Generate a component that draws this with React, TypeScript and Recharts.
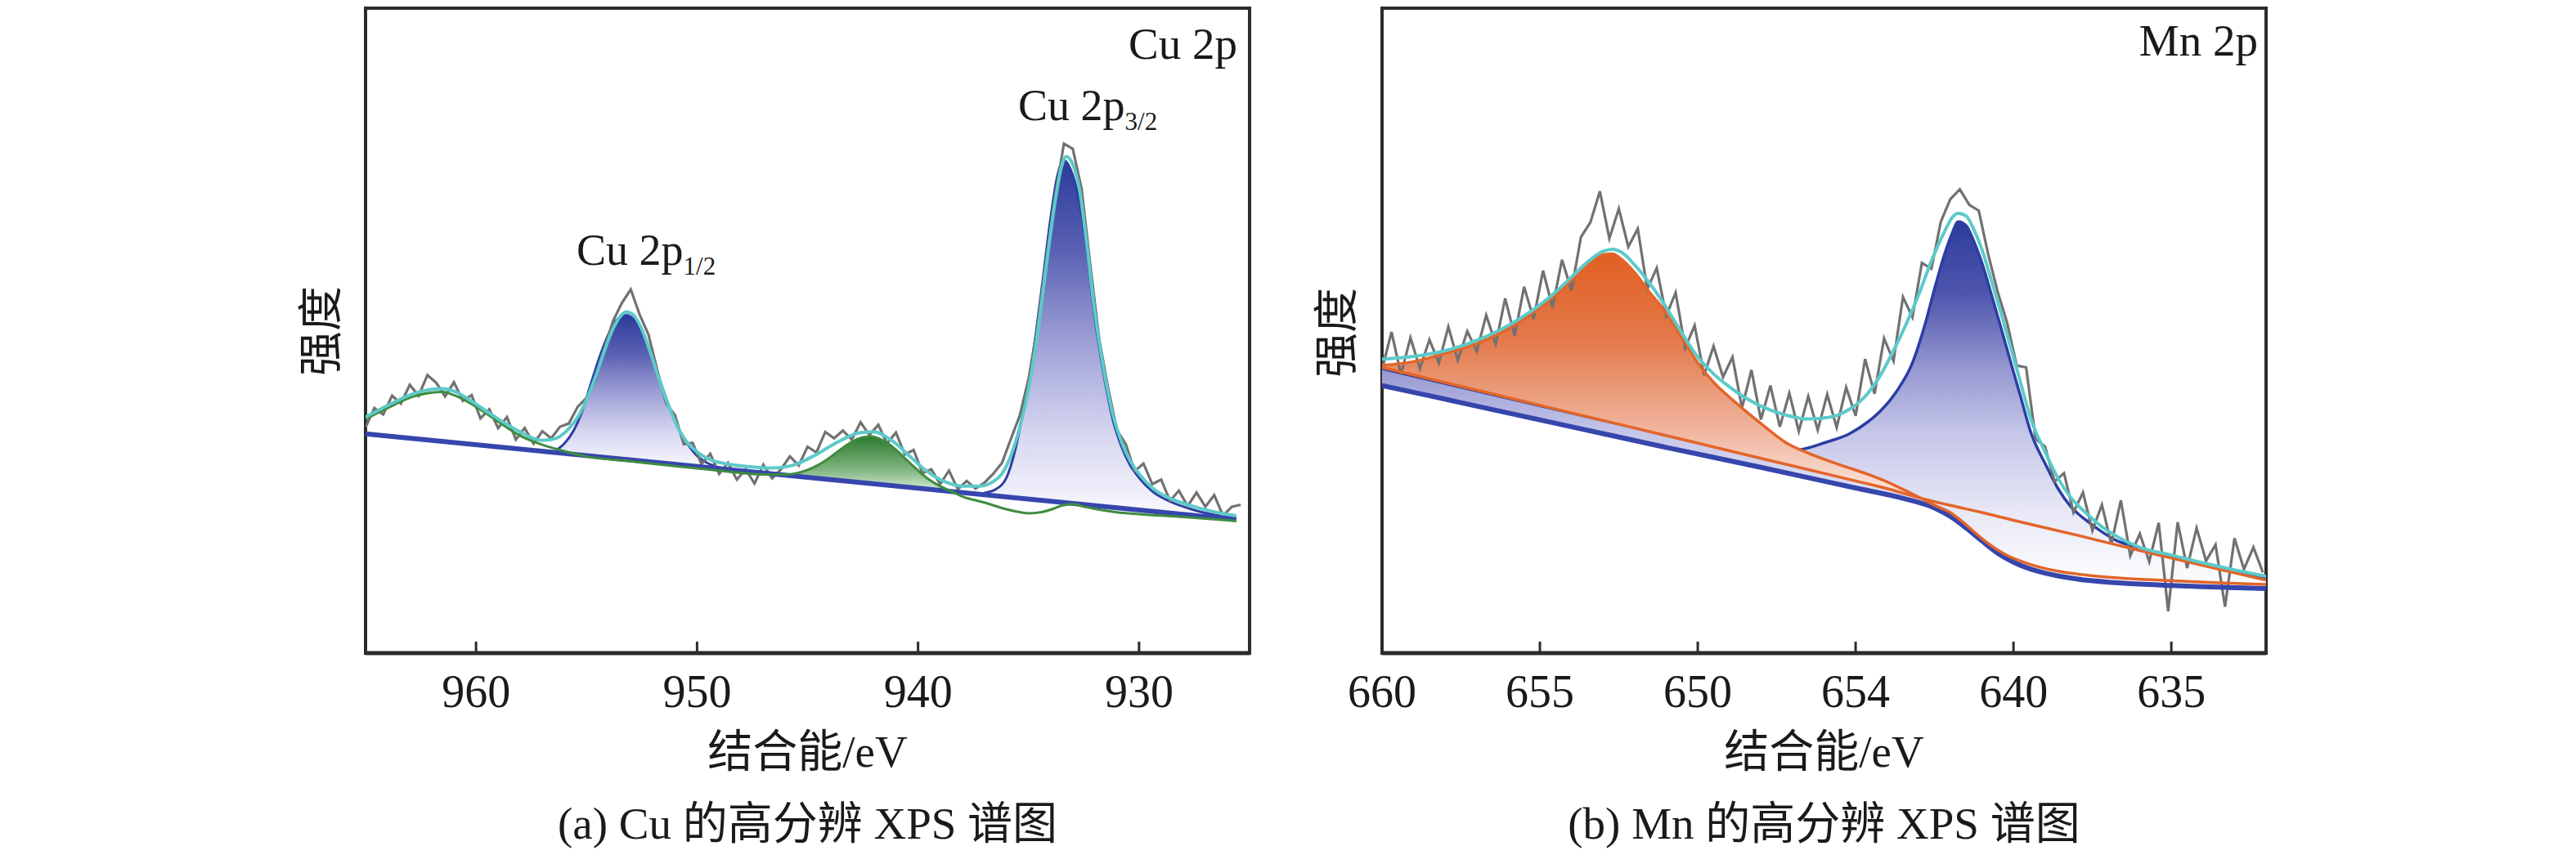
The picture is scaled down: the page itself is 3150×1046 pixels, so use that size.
import React from 'react';
import { ComposedChart, Line, Area, XAxis, YAxis, ReferenceArea } from 'recharts';

// ================= (a) Cu 2p =================
const cuTicks = [960, 950, 940, 930];
const cuTickLabels = ['960', '950', '940', '930'];

// linear background (E, intensity)
const cuBaseline = [[965, 34.0], [925.6, 20.7]];

// Cu 2p1/2 component (E, background, component)
const cuP12 = [
  [956.4, 31.11, 31.4], [956.0, 30.96, 32.5], [955.6, 30.83, 34.4], [955.2, 30.69, 37.5],
  [954.8, 30.55, 41.8], [954.4, 30.42, 46.0], [954.0, 30.28, 49.5], [953.6, 30.15, 51.8],
  [953.2, 30.01, 52.4], [952.8, 29.88, 51.5], [952.4, 29.74, 49.0], [952.0, 29.61, 45.5],
  [951.6, 29.47, 41.5], [951.2, 29.34, 37.7], [950.8, 29.2, 34.6], [950.4, 29.07, 32.3],
  [950.0, 28.93, 30.6], [949.6, 28.8, 29.6], [949.2, 28.66, 29.0], [948.8, 28.53, 28.6],
];

// Cu 2p3/2 component (E, background, component)
const cuP32 = [
  [937.0, 24.55, 24.85], [936.5, 24.38, 25.38], [936.0, 24.21, 27.21], [935.6, 24.08, 31.58],
  [935.2, 23.94, 38.44], [934.8, 23.81, 46.31], [934.4, 23.67, 56.67], [934.0, 23.54, 67.54],
  [933.7, 23.43, 73.93], [933.4, 23.33, 76.43], [933.1, 23.23, 75.03], [932.8, 23.13, 71.63],
  [932.4, 22.98, 63.48], [932.0, 22.86, 51.86], [931.6, 22.73, 43.23], [931.2, 22.59, 36.39],
  [930.8, 22.46, 32.06], [930.4, 22.32, 29.12], [930.0, 22.19, 27.19], [929.4, 21.98, 25.08],
  [928.6, 21.71, 23.51], [927.6, 21.38, 22.28], [926.6, 21.04, 21.44], [925.6, 20.7, 20.9],
];

// shake-up satellite fill (E, background, satellite)
const cuSat = [
  [946.0, 27.59, 27.68], [945.5, 27.42, 27.9], [945.0, 27.25, 28.4], [944.5, 27.09, 29.2],
  [944.0, 26.92, 30.3], [943.5, 26.75, 31.6], [943.0, 26.58, 32.76], [942.5, 26.41, 33.47],
  [942.1, 26.28, 33.58], [941.6, 26.11, 32.99], [941.0, 25.91, 31.54], [940.5, 25.74, 29.91],
  [940.0, 25.57, 28.32], [939.5, 25.4, 26.91], [939.0, 25.24, 25.87], [938.5, 25.07, 25.08],
];

// green satellite curve (E, intensity)
const cuGreen = [
  [965.0, 36.3], [964.0, 38.0], [963.0, 39.6], [962.0, 40.4], [961.5, 40.5], [961.0, 40.0],
  [960.0, 38.2], [959.0, 35.9], [958.0, 33.7], [957.0, 32.3], [956.0, 31.3], [955.0, 30.5],
  [953.0, 29.75], [951.0, 29.0], [949.0, 28.3], [947.0, 27.7], [946.0, 27.68], [945.5, 27.9],
  [945.0, 28.4], [944.5, 29.2], [944.0, 30.3], [943.5, 31.6], [943.0, 32.76], [942.5, 33.47],
  [942.1, 33.58], [941.6, 32.99], [941.0, 31.54], [940.5, 29.91], [940.0, 28.32], [939.5, 26.91],
  [939.0, 25.87], [938.5, 25.08], [938.0, 24.3], [937.0, 23.35], [936.0, 22.3], [935.6, 21.98],
  [935.0, 21.68], [934.4, 21.87], [934.0, 22.24], [933.5, 22.87], [933.0, 23.1], [932.5, 22.73],
  [932.0, 22.36], [931.0, 21.82], [930.0, 21.54], [928.0, 21.11], [925.6, 20.5],
];

// fitted envelope (E, intensity)
const cuEnv = [
  [965.0, 36.6], [964.0, 38.4], [963.0, 40.0], [962.0, 40.9], [961.5, 41.0], [961.0, 40.6],
  [960.0, 38.6], [959.0, 36.3], [958.0, 34.3], [957.4, 33.3], [957.0, 33.0], [956.6, 33.1],
  [956.2, 33.6], [955.8, 34.8], [955.4, 36.6], [955.0, 39.3], [954.6, 42.8], [954.2, 46.8],
  [953.8, 50.3], [953.4, 52.5], [953.2, 52.9], [952.9, 52.5], [952.5, 50.2], [952.1, 46.5],
  [951.7, 42.3], [951.3, 38.5], [950.9, 35.2], [950.5, 32.9], [950.0, 31.2], [949.4, 30.0],
  [948.6, 29.3], [947.6, 28.9], [946.6, 28.7], [945.6, 29.2], [944.6, 30.8], [943.6, 32.8],
  [942.6, 34.2], [942.0, 34.3], [941.2, 33.0], [940.4, 30.6], [939.6, 28.2], [938.8, 26.6],
  [938.0, 25.9], [937.2, 25.9], [936.6, 26.6], [936.2, 27.8], [935.8, 30.6], [935.4, 35.0],
  [935.0, 41.0], [934.6, 49.4], [934.2, 60.0], [933.8, 70.0], [933.5, 75.5], [933.3, 77.0],
  [933.0, 75.8], [932.7, 72.0], [932.4, 64.4], [932.0, 52.8], [931.6, 44.0], [931.2, 37.2],
  [930.8, 32.8], [930.4, 29.8], [930.0, 27.8], [929.4, 25.6], [928.6, 24.0], [927.6, 22.8],
  [926.6, 21.9], [925.6, 21.3],
];

// measured spectrum (E, intensity)
const cuRaw = [
  [965.0, 35.0], [964.6, 38.0], [964.2, 37.0], [963.8, 39.9], [963.4, 38.7], [963.0, 41.6],
  [962.6, 39.9], [962.2, 43.1], [961.8, 41.9], [961.4, 39.8], [961.0, 42.0], [960.6, 39.1],
  [960.2, 40.0], [959.8, 36.4], [959.4, 37.8], [959.0, 34.9], [958.6, 36.6], [958.2, 33.1],
  [957.8, 34.9], [957.4, 32.5], [957.0, 34.4], [956.6, 33.3], [956.2, 35.1], [955.8, 35.6],
  [955.4, 38.2], [955.0, 39.6], [954.6, 42.3], [954.2, 47.2], [953.8, 51.5], [953.4, 54.3],
  [953.0, 56.4], [952.6, 52.5], [952.2, 49.4], [951.8, 43.9], [951.4, 38.7], [951.0, 36.9],
  [950.6, 32.4], [950.2, 32.6], [949.8, 29.3], [949.4, 30.9], [949.0, 27.8], [948.6, 29.5],
  [948.2, 26.9], [947.8, 28.5], [947.4, 26.3], [947.0, 29.2], [946.6, 27.1], [946.2, 28.5],
  [945.8, 30.5], [945.4, 29.1], [945.0, 32.0], [944.6, 31.1], [944.2, 34.3], [943.8, 33.3],
  [943.4, 34.5], [943.0, 33.1], [942.6, 35.8], [942.2, 33.8], [941.8, 35.4], [941.4, 32.5],
  [941.0, 34.2], [940.6, 30.8], [940.2, 31.5], [939.8, 27.9], [939.4, 28.5], [939.0, 26.2],
  [938.6, 28.3], [938.2, 25.4], [937.8, 26.7], [937.4, 25.5], [937.0, 26.4], [936.6, 27.8],
  [936.2, 29.5], [935.8, 33.2], [935.4, 36.8], [935.0, 42.5], [934.6, 50.6], [934.2, 61.0],
  [933.8, 70.8], [933.4, 79.0], [933.0, 78.2], [932.6, 72.0], [932.2, 60.0], [931.8, 48.6],
  [931.4, 41.1], [931.0, 34.6], [930.6, 32.4], [930.2, 28.2], [929.8, 29.4], [929.4, 26.2],
  [929.0, 26.9], [928.6, 23.6], [928.2, 25.2], [927.8, 22.8], [927.4, 24.9], [927.0, 22.7],
  [926.6, 24.5], [926.2, 21.3], [925.8, 22.7], [925.4, 23.0],
];

// ================= (b) Mn 2p =================
const mnTicks = [660, 655, 650, 645, 640, 635];
const mnTickLabels = ['660', '655', '650', '654', '640', '635'];

// Shirley background (E, intensity)
const mnBg = [
  [660, 41.5], [657, 38.3], [654, 35.1], [651, 31.9], [648, 28.8], [645, 25.6], [643.5, 24.0],
  [642.5, 22.5], [642, 21.2], [641.5, 19.4], [641, 17.4], [640.5, 15.5], [640, 14.1],
  [639.5, 13.1], [639, 12.4], [638, 11.5], [637, 11.0], [636, 10.7], [635, 10.5], [634, 10.3],
  [633, 10.15], [632, 10.0],
];

// straight orange background (E, intensity)
const mnLineB = [
  [660, 44.3], [656, 39.6], [652, 34.9], [648, 30.2], [645, 26.7], [644, 25.5], [643, 24.1],
  [642, 22.9], [641, 21.8], [640, 20.6], [638, 18.3], [636, 15.9], [634, 13.6], [632, 11.3],
];

// Mn 2p1/2 component curve (E, intensity)
const mnLineA = [
  [660, 44.6], [659, 45.2], [658, 46.5], [657, 48.0], [656, 50.3], [655, 53.6], [654.5, 55.6],
  [654, 57.8], [653.5, 60.2], [653, 61.8], [652.7, 61.9], [652.4, 61.0], [652, 59.0],
  [651.5, 55.8], [651, 52.8], [650.5, 48.9], [650, 45.0], [649.5, 42.0], [649, 39.7],
  [648.5, 37.6], [648, 35.6], [647.2, 32.6], [646.5, 31.0], [645.5, 29.2], [644.6, 27.7],
  [643.8, 26.1], [643.2, 24.67], [642.9, 23.95], [642.4, 22.7], [642, 21.8], [641.6, 20.3],
  [641.2, 18.6], [640.8, 17.0], [640.3, 15.4], [639.5, 13.8], [638.7, 12.8], [637.7, 12.1],
  [636.5, 11.6], [635.1, 11.25], [633.5, 10.9], [632, 10.65],
];

// Mn 2p1/2 filled region (E, lower, upper)
const mnOrange = [
  [660, 44.3, 44.6], [659, 43.12, 45.2], [658, 41.95, 46.5], [657, 40.77, 48.0],
  [656, 39.6, 50.3], [655, 38.42, 53.6], [654.5, 37.84, 55.6], [654, 37.25, 57.8],
  [653.5, 36.66, 60.2], [653, 36.07, 61.8], [652.7, 35.72, 61.9], [652.4, 35.37, 61.0],
  [652, 34.9, 59.0], [651.5, 34.31, 55.8], [651, 33.73, 52.8], [650.5, 33.14, 48.9],
  [650, 32.55, 45.0], [649.5, 31.96, 42.0], [649, 31.38, 39.7], [648.5, 30.79, 37.6],
  [648, 30.2, 35.6], [647.2, 29.27, 32.6], [646.5, 28.45, 31.0], [645.5, 27.28, 29.2],
  [644.6, 26.22, 27.7], [643.8, 25.22, 26.1], [643.2, 24.38, 24.67], [642.75, 23.75, 23.75],
];

// Mn 2p3/2 filled region (E, background, component)
const mnBlue = [
  [660, 41.5, 44.1], [656, 37.23, 39.5], [652, 32.97, 35.0], [650, 30.83, 32.9],
  [648.5, 29.33, 31.6], [647.5, 28.27, 31.2], [646.6, 27.31, 31.7], [646, 26.67, 32.6],
  [645.2, 25.81, 34.0], [644.6, 25.17, 35.9], [644.2, 24.75, 37.6], [643.7, 24.21, 40.6],
  [643.2, 23.55, 45.0], [642.8, 22.95, 51.0], [642.5, 22.5, 56.5], [642.2, 21.72, 61.6],
  [641.95, 21.02, 65.0], [641.75, 20.3, 66.9], [641.5, 19.4, 66.3], [641.25, 18.4, 63.8],
  [641.0, 17.4, 60.5], [640.7, 16.26, 55.6], [640.4, 15.22, 50.5], [640.1, 14.38, 45.3],
  [639.8, 13.7, 40.2], [639.45, 13.03, 34.2], [639.0, 12.4, 29.4], [638.6, 12.04, 25.6],
  [638.2, 11.68, 22.8], [637.7, 11.35, 20.6], [637.2, 11.1, 18.8], [636.8, 10.94, 17.6],
  [636, 10.7, 16.3], [635, 10.5, 15.0], [634, 10.3, 13.8], [633, 10.15, 12.65], [632, 10.0, 11.5],
];

// fitted envelope (E, intensity)
const mnEnv = [
  [660, 45.6], [659, 46.0], [658, 46.9], [657, 48.5], [656, 50.8], [655, 54.0], [654.5, 56.0],
  [654, 58.3], [653.5, 60.6], [653, 62.3], [652.7, 62.6], [652.4, 62.1], [652, 60.2],
  [651.5, 57.2], [651, 53.6], [650.5, 49.6], [650, 45.9], [649.5, 43.3], [649, 41.3],
  [648.5, 39.6], [648, 38.3], [647.2, 36.9], [646.5, 36.3], [645.8, 36.6], [645.2, 37.8],
  [644.7, 39.8], [644.2, 43.2], [643.8, 46.9], [643.4, 51.0], [643.0, 55.6], [642.6, 60.8],
  [642.2, 65.2], [641.95, 67.5], [641.75, 68.2], [641.5, 67.8], [641.25, 65.6], [641.0, 62.6],
  [640.7, 57.8], [640.4, 52.8], [640.1, 47.6], [639.8, 42.4], [639.45, 36.3], [639.0, 31.2],
  [638.6, 27.2], [638.2, 24.2], [637.7, 21.7], [637.2, 19.6], [636.8, 18.3], [636.0, 16.4],
  [635.0, 15.2], [634.0, 14.0], [633.0, 12.9], [632.0, 11.9],
];

// measured spectrum (E, intensity)
const mnRaw = [
  [660.0, 44.0], [659.7, 49.8], [659.4, 43.2], [659.1, 48.9], [658.8, 44.1], [658.5, 48.6],
  [658.2, 45.0], [657.9, 50.6], [657.6, 45.4], [657.3, 49.9], [657.0, 46.8], [656.7, 52.4],
  [656.4, 47.9], [656.1, 55.0], [655.8, 49.2], [655.5, 56.8], [655.2, 51.8], [654.9, 59.3],
  [654.6, 53.6], [654.3, 61.0], [654.0, 56.2], [653.7, 64.5], [653.4, 66.8], [653.1, 71.6],
  [652.8, 64.3], [652.5, 68.9], [652.2, 63.0], [651.9, 65.8], [651.6, 56.4], [651.3, 59.7],
  [651.0, 52.3], [650.7, 55.9], [650.4, 47.3], [650.1, 50.8], [649.8, 43.1], [649.5, 47.6],
  [649.2, 42.8], [648.9, 45.9], [648.6, 38.0], [648.3, 43.9], [648.0, 36.2], [647.7, 41.5],
  [647.4, 35.1], [647.1, 40.3], [646.8, 34.4], [646.5, 39.8], [646.2, 34.6], [645.9, 40.1],
  [645.6, 35.0], [645.3, 41.2], [645.0, 36.8], [644.7, 45.6], [644.4, 40.2], [644.1, 48.8],
  [643.8, 45.3], [643.5, 55.2], [643.2, 52.1], [642.9, 60.5], [642.6, 59.6], [642.3, 66.9],
  [642.0, 70.4], [641.7, 71.9], [641.4, 69.5], [641.1, 68.6], [640.8, 61.8], [640.5, 56.0],
  [640.2, 51.2], [639.9, 44.6], [639.6, 44.3], [639.3, 33.2], [639.0, 32.0], [638.7, 26.6],
  [638.4, 27.9], [638.1, 21.8], [637.8, 24.9], [637.5, 19.0], [637.2, 23.0], [636.9, 16.9],
  [636.6, 23.7], [636.3, 15.1], [636.0, 18.5], [635.7, 14.2], [635.4, 20.2], [635.1, 6.5],
  [634.8, 20.3], [634.5, 13.2], [634.2, 19.4], [633.9, 14.3], [633.6, 16.8], [633.3, 7.2],
  [633.0, 17.8], [632.7, 13.0], [632.4, 16.4], [632.1, 12.5],
];

// ================= helpers =================
const pts = (arr: number[][]) => arr.map(([e, v]) => ({ e, v }));
const rng = (arr: number[][]) => arr.map(([e, lo, hi]) => ({ e, r: [lo, hi] }));

const SERIF = '"Liberation Serif", "Noto Sans CJK SC", serif';
const FRAME = '#2b2b2b';
const BLUE_LINE = '#2c3ea4';
const BG_BLUE = '#3646ad';
const CYAN = '#5ccaca';
const GRAY = '#717171';
const GREEN = '#3e8c3e';
const ORANGE = '#e3652a';

function AxisTick(props: any) {
  const { x, y, payload, labels, ticks } = props;
  const idx = ticks.indexOf(payload.value);
  return (
    <g>
      <line x1={x} x2={x} y1={y} y2={y - 14} stroke={FRAME} strokeWidth={3} />
      <text
        x={x}
        y={y + 47}
        textAnchor="middle"
        dominantBaseline="central"
        fontFamily={SERIF}
        fontSize={56}
        fill="#1a1a1a"
      >
        {labels[idx]}
      </text>
    </g>
  );
}

function BlueGradient({ id }: { id: string }) {
  return (
    <linearGradient id={id} x1="0" y1="0" x2="0" y2="1">
      <stop offset="0" stopColor="#2c3c9a" />
      <stop offset="0.25" stopColor="#5a60b3" />
      <stop offset="0.5" stopColor="#9c9ed5" />
      <stop offset="0.75" stopColor="#d4d4ef" />
      <stop offset="1" stopColor="#fbfbff" />
    </linearGradient>
  );
}

function CuChart() {
  return (
    <ComposedChart width={1600} height={1046} margin={{ top: 10, right: 72, bottom: 207, left: 447 }}>
      <defs>
        <BlueGradient id="cuBlue1" />
        <BlueGradient id="cuBlue2" />
        <linearGradient id="cuGreenG" x1="0" y1="0" x2="0" y2="1">
          <stop offset="0" stopColor="#2d7a2f" />
          <stop offset="0.6" stopColor="#7fb47f" />
          <stop offset="1" stopColor="#d9ecd9" />
        </linearGradient>
      </defs>
      <XAxis
        dataKey="e"
        type="number"
        domain={[925, 965]}
        reversed
        allowDataOverflow
        ticks={cuTicks}
        interval={0}
        tickSize={0}
        tickMargin={0}
        height={40}
        tickLine={false}
        axisLine={{ stroke: FRAME, strokeWidth: 5 }}
        tick={(p: any) => <AxisTick {...p} labels={cuTickLabels} ticks={cuTicks} />}
      />
      <YAxis type="number" domain={[0, 100]} hide width={0} allowDataOverflow />
      <ReferenceArea x1={925} x2={965} y1={0} y2={100} fill="none" fillOpacity={0} stroke={FRAME} strokeWidth={4} />
      <Area data={rng(cuSat)} dataKey="r" type="monotone" stroke="none" fill="url(#cuGreenG)" fillOpacity={1} isAnimationActive={false} dot={false} activeDot={false} />
      <Area data={rng(cuP12)} dataKey="r" type="monotone" stroke={BLUE_LINE} strokeWidth={3} fill="url(#cuBlue1)" fillOpacity={1} isAnimationActive={false} dot={false} activeDot={false} />
      <Area data={rng(cuP32)} dataKey="r" type="monotone" stroke={BLUE_LINE} strokeWidth={3} fill="url(#cuBlue2)" fillOpacity={1} isAnimationActive={false} dot={false} activeDot={false} />
      <Line data={pts(cuRaw)} dataKey="v" type="linear" stroke={GRAY} strokeWidth={3.2} dot={false} activeDot={false} isAnimationActive={false} />
      <Line data={pts(cuBaseline)} dataKey="v" type="linear" stroke={BG_BLUE} strokeWidth={6} dot={false} activeDot={false} isAnimationActive={false} />
      <Line data={pts(cuGreen)} dataKey="v" type="monotone" stroke={GREEN} strokeWidth={3} dot={false} activeDot={false} isAnimationActive={false} />
      <Line data={pts(cuEnv)} dataKey="v" type="monotone" stroke={CYAN} strokeWidth={4} dot={false} activeDot={false} isAnimationActive={false} />
    </ComposedChart>
  );
}

function MnChart() {
  return (
    <ComposedChart width={1550} height={1046} margin={{ top: 10, right: 379, bottom: 207, left: 90 }}>
      <defs>
        <linearGradient id="mnBlueG" x1="0" y1="0" x2="0" y2="1">
          <stop offset="0" stopColor="#2c3c9a" />
          <stop offset="0.2" stopColor="#5056ae" />
          <stop offset="0.4" stopColor="#9698d1" />
          <stop offset="0.58" stopColor="#c6c7e9" />
          <stop offset="0.8" stopColor="#e9e9f7" />
          <stop offset="1" stopColor="#ffffff" />
        </linearGradient>
        <linearGradient id="mnOrangeG" x1="0" y1="0" x2="0" y2="1">
          <stop offset="0" stopColor="#e05f22" />
          <stop offset="0.35" stopColor="#e47a4c" />
          <stop offset="0.7" stopColor="#efb29a" />
          <stop offset="1" stopColor="#fbeae2" />
        </linearGradient>
      </defs>
      <XAxis
        dataKey="e"
        type="number"
        domain={[632, 660]}
        reversed
        allowDataOverflow
        ticks={mnTicks}
        interval={0}
        tickSize={0}
        tickMargin={0}
        height={40}
        tickLine={false}
        axisLine={{ stroke: FRAME, strokeWidth: 5 }}
        tick={(p: any) => <AxisTick {...p} labels={mnTickLabels} ticks={mnTicks} />}
      />
      <YAxis type="number" domain={[0, 100]} hide width={0} allowDataOverflow />
      <ReferenceArea x1={632} x2={660} y1={0} y2={100} fill="none" fillOpacity={0} stroke={FRAME} strokeWidth={4} />
      <Area data={rng(mnBlue)} dataKey="r" type="monotone" stroke={BLUE_LINE} strokeWidth={3.5} fill="url(#mnBlueG)" fillOpacity={1} isAnimationActive={false} dot={false} activeDot={false} />
      <Area data={rng(mnOrange)} dataKey="r" type="monotone" stroke="none" fill="url(#mnOrangeG)" fillOpacity={1} isAnimationActive={false} dot={false} activeDot={false} />
      <Line data={pts(mnRaw)} dataKey="v" type="linear" stroke={GRAY} strokeWidth={3.2} dot={false} activeDot={false} isAnimationActive={false} />
      <Line data={pts(mnBg)} dataKey="v" type="monotone" stroke={BG_BLUE} strokeWidth={6} dot={false} activeDot={false} isAnimationActive={false} />
      <Line data={pts(mnLineB)} dataKey="v" type="monotone" stroke={ORANGE} strokeWidth={3.5} dot={false} activeDot={false} isAnimationActive={false} />
      <Line data={pts(mnLineA)} dataKey="v" type="monotone" stroke={ORANGE} strokeWidth={3.5} dot={false} activeDot={false} isAnimationActive={false} />
      <Line data={pts(mnEnv)} dataKey="v" type="monotone" stroke={CYAN} strokeWidth={4} dot={false} activeDot={false} isAnimationActive={false} />
    </ComposedChart>
  );
}

export default function App() {
  const t = { fontFamily: SERIF, fill: '#1a1a1a' } as const;
  return (
    <div style={{ position: 'absolute', left: 0, top: 0, width: 3150, height: 1046, background: '#ffffff', overflow: 'hidden' }}>
      <div style={{ position: 'absolute', left: 0, top: 0 }}>
        <CuChart />
      </div>
      <div style={{ position: 'absolute', left: 1600, top: 0 }}>
        <MnChart />
      </div>
      <svg width={3150} height={1046} style={{ position: 'absolute', left: 0, top: 0, pointerEvents: 'none' }}>
        <text x={1513} y={72} textAnchor="end" fontSize={55} {...t}>Cu 2p</text>
        <text x={1245} y={147} fontSize={54} {...t}>
          Cu 2p<tspan fontSize={31} dy={12}>3/2</tspan>
        </text>
        <text x={705} y={324} fontSize={54} {...t}>
          Cu 2p<tspan fontSize={31} dy={12}>1/2</tspan>
        </text>
        <text x={2761} y={68} textAnchor="end" fontSize={55} {...t}>Mn 2p</text>
        <text transform="translate(392 405) rotate(-90)" textAnchor="middle" dominantBaseline="central" fontSize={55} {...t}>强度</text>
        <text transform="translate(1634 407) rotate(-90)" textAnchor="middle" dominantBaseline="central" fontSize={55} {...t}>强度</text>
        <text x={987.5} y={919} textAnchor="middle" dominantBaseline="central" fontSize={55} {...t}>结合能/eV</text>
        <text x={2230.5} y={919} textAnchor="middle" dominantBaseline="central" fontSize={55} {...t}>结合能/eV</text>
        <text x={987.5} y={1007} textAnchor="middle" dominantBaseline="central" fontSize={55} {...t}>(a) Cu 的高分辨 XPS 谱图</text>
        <text x={2230.5} y={1007} textAnchor="middle" dominantBaseline="central" fontSize={55} {...t}>(b) Mn 的高分辨 XPS 谱图</text>
      </svg>
    </div>
  );
}
